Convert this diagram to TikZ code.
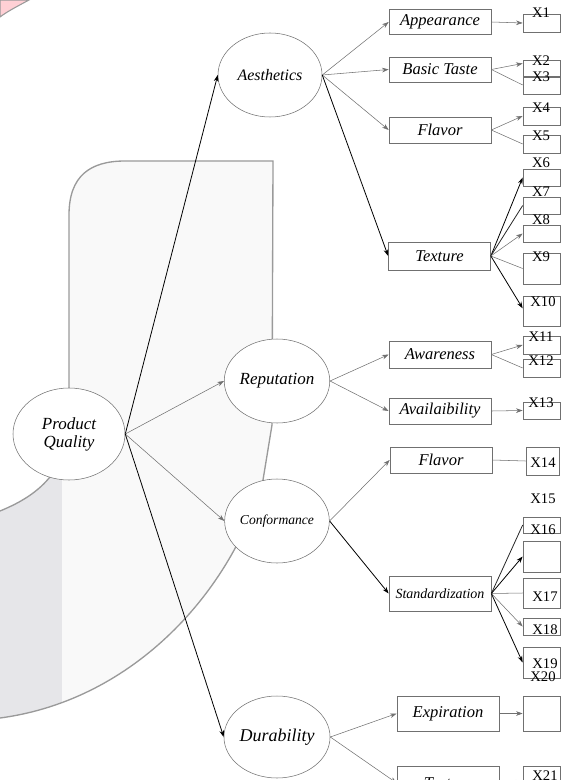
\documentclass[tikz,border=0pt]{standalone}
\usepackage{fontspec}
\setmainfont{Liberation Serif}
\usetikzlibrary{shapes.geometric,arrows.meta}
\definecolor{bglight}{HTML}{F9F9F9}
\definecolor{bgdark}{HTML}{E6E6E9}
\definecolor{bgedge}{HTML}{9A9A9A}
\definecolor{pinkc}{HTML}{FFD0D5}
\definecolor{linegray}{HTML}{707070}
\begin{document}
\begin{tikzpicture}[x=0.75pt,y=-0.75pt,
  lat/.style={ellipse,draw=linegray,line width=0.4pt,fill=white,inner sep=0pt},
  ind/.style={rectangle,draw=linegray,line width=0.5pt,fill=white,minimum width=76.5pt,inner sep=0pt,font=\fontsize{12.4}{14}\selectfont\itshape},
  obs/.style={rectangle,draw=linegray,line width=0.5pt,minimum width=27.75pt,inner sep=0pt},
  xl/.style={inner sep=0pt,font=\fontsize{11}{12}\selectfont},
  thinar/.style={draw=linegray,line width=0.4pt,-{Stealth[length=5pt,width=3.5pt]}},
  darkar/.style={draw=black,line width=0.6pt,-{Stealth[length=5pt,width=3.5pt]}},
  thinln/.style={draw=linegray,line width=0.4pt},
  darkln/.style={draw=black!85,line width=0.6pt},
  bgshape/.style={draw=bgedge,line width=1pt},
]
\useasboundingbox (0,0) rectangle (562,780);

% background decoration
\path[fill=pinkc,draw=bgedge,line width=0.8pt] (0,0) -- (29,0) .. controls (18,6) and (8,11) .. (0,17) -- cycle;
\begin{scope}
\clip (0,511) .. controls (22,502) and (42,490) .. (55,470) -- (69,420) -- (69,215) .. controls (69,176) and (90,161) .. (125,161) -- (273,161) -- (272,425) -- (263,480) .. controls (232,590) and (135,700) .. (0,718) -- cycle;
\fill[bglight] (0,150) rectangle (280,730);
\fill[bgdark] (0,150) rectangle (62,730);
\end{scope}
\draw[bgshape] (0,511) .. controls (22,502) and (42,490) .. (55,470) -- (69,420) -- (69,215) .. controls (69,176) and (90,161) .. (125,161) -- (273,161) -- (272,425) -- (263,480) .. controls (232,590) and (135,700) .. (0,718);

% latent variables
\node[lat,minimum width=84pt,minimum height=69pt,align=center,font=\fontsize{12.75}{13.5}\selectfont\itshape] (pq) at (69,434) {Product\\Quality};
\node[lat,minimum width=78pt,minimum height=63pt,font=\fontsize{12}{14}\selectfont\itshape] (aes) at (270,75) {Aesthetics};
\node[lat,minimum width=76.5pt,minimum height=63pt,font=\fontsize{12.75}{14}\selectfont\itshape] (rep) at (277,381) {Reputation};
\node[lat,minimum width=76.5pt,minimum height=63pt,font=\fontsize{10.2}{12}\selectfont\itshape] (conf) at (277,521) {Conformance};
\node[lat,minimum width=76.5pt,minimum height=61.5pt,font=\fontsize{13.5}{15}\selectfont\itshape] (dur) at (277,737) {Durability};

% dimension boxes
\node[ind,minimum height=18.75pt] (app) at (440,22) {Appearance};
\node[ind,minimum height=18.75pt] (bt) at (440,69.5) {Basic Taste};
\node[ind,minimum height=19.5pt] (fl1) at (440,130) {Flavor};
\node[ind,minimum height=21pt] (tex) at (439.5,256) {Texture};
\node[ind,minimum height=20.25pt] (aw) at (440,354.5) {Awareness};
\node[ind,minimum height=19.5pt] (av) at (440,411) {Availaibility};
\node[ind,minimum height=19.5pt] (fl2) at (441,460) {Flavor};
\node[ind,minimum height=26.25pt,font=\fontsize{10.5}{12}\selectfont\itshape] (std) at (440,593.5) {Standardization};
\node[ind,minimum height=26.25pt] (exp) at (448,713.5) {Expiration};
\node[ind,minimum height=25.5pt] (tex2) at (448,783) {Texture};

% indicator boxes
\node[obs,minimum height=13.5pt] (b1) at (541.5,23) {};
\node[obs,minimum height=12.75pt] (b2) at (541.5,68.5) {};
\node[obs,minimum height=13.5pt] (b3) at (541.5,85) {};
\node[obs,minimum height=13.5pt] (b4) at (541.5,116) {};
\node[obs,minimum height=13.5pt] (b5) at (541.5,144) {};
\node[obs,minimum height=12.75pt] (b6) at (541.5,177.5) {};
\node[obs,minimum height=12.75pt] (b7) at (541.5,205.5) {};
\node[obs,minimum height=12.75pt] (b8) at (541.5,233.5) {};
\node[obs,minimum height=23.25pt] (b9) at (541.5,268.5) {};
\node[obs,minimum height=22.5pt] (b10) at (541.5,311) {};
\node[obs,minimum height=13.5pt] (b11) at (541.5,345) {};
\node[obs,minimum height=13.5pt] (b12) at (541.5,368) {};
\node[obs,minimum height=12.75pt] (b13) at (541.5,410.5) {};
\node[obs,minimum width=24.75pt,minimum height=21pt] (b14) at (542.5,461) {};
\node[obs,minimum height=12pt] (b16) at (541.5,525) {};
\node[obs,minimum height=23.25pt] (be) at (541.5,556.5) {};
\node[obs,minimum height=22.5pt] (b17) at (541.5,593) {};
\node[obs,minimum height=12.75pt] (b18) at (541.5,626.5) {};
\node[obs,minimum height=23.25pt] (b19) at (541.5,662.5) {};
\node[obs,minimum height=26.25pt] (bex) at (541.5,713.5) {};
\node[obs,minimum height=24pt] (b21) at (541.5,782) {};

% indicator labels
\node[xl] (l1) at (541,13) {X1};
\node[xl] (l2) at (541,61) {X2};
\node[xl] (l3) at (541,77) {X3};
\node[xl] (l4) at (541,108) {X4};
\node[xl] (l5) at (541,136) {X5};
\node[xl] (l6) at (541,163) {X6};
\node[xl] (l7) at (541,192) {X7};
\node[xl] (l8) at (541,220) {X8};
\node[xl] (l9) at (541,257) {X9};
\node[xl] (l10) at (543,302) {X10};
\node[xl] (l11) at (541,337) {X11};
\node[xl] (l12) at (541,361) {X12};
\node[xl] (l13) at (541,403) {X13};
\node[xl] (l14) at (543,463) {X14};
\node[xl] (l15) at (543,499) {X15};
\node[xl] (l16) at (543,530) {X16};
\node[xl] (l17) at (545,597) {X17};
\node[xl] (l18) at (545,630) {X18};
\node[xl] (l19) at (545,664) {X19};
\node[xl] (l20) at (543,677) {X20};
\node[xl] (l21) at (545,776) {X21};

% connectors: product quality
\draw[darkar] (pq.east) -- (aes.west);
\draw[thinar] (pq.east) -- (rep.west);
\draw[thinar] (pq.east) -- (conf.west);
\draw[darkar] (pq.east) -- (dur.west);

% aesthetics
\draw[thinar] (aes.east) -- (app.west);
\draw[thinar] (aes.east) -- (bt.west);
\draw[thinar] (aes.east) -- (fl1.west);
\draw[darkar] (aes.east) -- (tex.west);
\draw[thinar] (app.east) -- (b1.west);
\draw[thinar] (bt.east) -- (b2.165);
\draw[thinln] (bt.east) -- (b3.west);
\draw[thinar] (fl1.east) -- (b4.west);
\draw[thinln] (fl1.east) -- (b5.west);
\draw[darkar] (tex.east) -- (b6.west);
\draw[darkln] (tex.east) -- (b7.west);
\draw[thinar] (tex.east) -- (b8.west);
\draw[thinln] (tex.east) -- (b9.west);
\draw[darkar] (tex.east) -- (b10.172);

% reputation
\draw[thinar] (rep.east) -- (aw.west);
\draw[thinar] (rep.east) -- (av.west);
\draw[thinar] (aw.east) -- (b11.west);
\draw[thinln] (aw.east) -- (b12.west);
\draw[thinar] (av.east) -- (b13.west);

% conformance
\draw[thinar] (conf.east) -- (fl2.west);
\draw[darkar] (conf.east) -- (std.west);
\draw[thinln] (fl2.east) -- (b14.west);
\draw[darkln] (std.east) -- (b16.west);
\draw[darkar] (std.east) -- (be.west);
\draw[thinln] (std.east) -- (b17.west);
\draw[thinar] (std.east) -- (b18.west);
\draw[darkar] (std.east) -- (b19.west);

% durability
\draw[thinar] (dur.east) -- (exp.west);
\draw[thinar] (dur.east) -- (tex2.west);
\draw[thinar] (exp.east) -- (bex.west);
\draw[thinar] (tex2.east) -- (b21.west);
\end{tikzpicture}
\end{document}
